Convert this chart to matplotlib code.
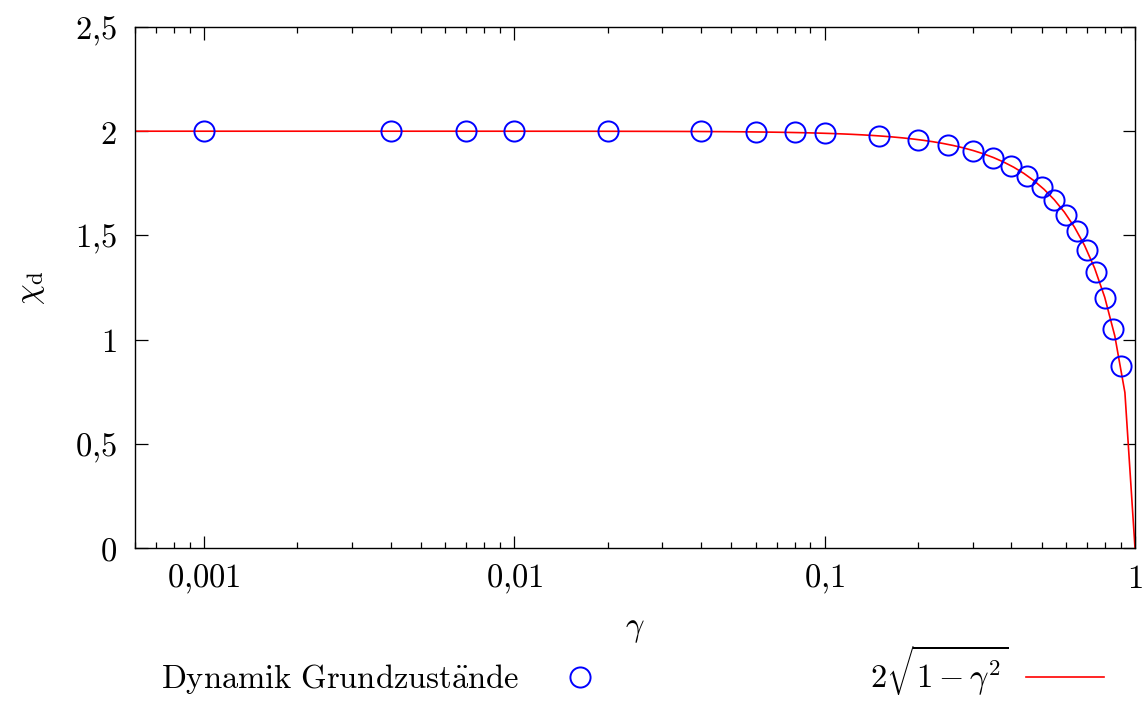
import numpy as np
import matplotlib
matplotlib.use("Agg")
import matplotlib.pyplot as plt
from matplotlib.lines import Line2D
from matplotlib.ticker import FixedLocator, LogLocator, NullFormatter

plt.rcParams['mathtext.fontset'] = 'cm'
plt.rcParams['font.family'] = 'serif'
plt.rcParams['font.serif'] = ['DejaVu Serif']

# Data: "Dynamik Grundzustände"
gamma = [0.001, 0.004, 0.007, 0.01, 0.02, 0.04, 0.06, 0.08, 0.1, 0.15, 0.2,
         0.25, 0.3, 0.35, 0.4, 0.45, 0.5, 0.55, 0.6, 0.65, 0.7, 0.75, 0.8,
         0.85, 0.9]
chi_d = [2.0, 2.0, 2.0, 2.0, 2.0, 1.999, 1.997, 1.994, 1.990, 1.976, 1.958,
         1.935, 1.904, 1.873, 1.832, 1.786, 1.732, 1.669, 1.597, 1.520, 1.428,
         1.322, 1.199, 1.053, 0.871]

x_min, x_max = 0.0006, 1.0
y_ticks = [0, 0.5, 1, 1.5, 2, 2.5]
x_ticks = [0.001, 0.01, 0.1, 1]
x_ticklabels = [r'$0{,}001$', r'$0{,}01$', r'$0{,}1$', r'$1$']
y_ticklabels = [r'$0$', r'$0{,}5$', r'$1$', r'$1{,}5$', r'$2$', r'$2{,}5$']

# analytic curve 2*sqrt(1-gamma^2), sampled 100 times in log space (gnuplot style)
g_curve = np.logspace(np.log10(x_min), 0, 100)
chi_curve = 2 * np.sqrt(np.clip(1 - g_curve**2, 0, None))

W, H = 1147, 701
fig = plt.figure(figsize=(W / 100, H / 100), dpi=100)
ax = fig.add_axes([135 / W, 1 - 548 / H, 1000 / W, (548 - 27) / H])

FS = 23.5
ax.plot(g_curve, chi_curve, color='#ff0000', lw=1.2, zorder=2)
ax.plot(gamma, chi_d, linestyle='none', marker='o', markersize=14.5,
        markerfacecolor='none', markeredgecolor='#0000ff', markeredgewidth=1.4,
        zorder=3)

ax.set_xscale('log')
ax.set_xlim(x_min, x_max)
ax.set_ylim(0, 2.5)

ax.xaxis.set_major_locator(FixedLocator(x_ticks))
ax.set_xticklabels(x_ticklabels)
ax.xaxis.set_minor_locator(LogLocator(base=10, subs=np.arange(2, 10)))
ax.xaxis.set_minor_formatter(NullFormatter())
ax.set_yticks(y_ticks)
ax.set_yticklabels(y_ticklabels)

ax.tick_params(which='both', direction='in', top=True, right=True,
               width=0.9, color='black')
ax.tick_params(which='major', length=9, labelsize=FS)
ax.tick_params(which='minor', length=4.5)
ax.tick_params(axis='x', which='major', pad=11)
ax.tick_params(axis='y', which='major', pad=13)
for s in ax.spines.values():
    s.set_linewidth(1.0)

ax.set_xlabel(r'$\gamma$', fontsize=FS, labelpad=12)
ax.set_ylabel(r'$\chi_{\mathrm{d}}$', fontsize=FS, labelpad=20)

# legend
h1 = Line2D([], [], linestyle='none', marker='o', markersize=14.5,
            markerfacecolor='none', markeredgecolor='#0000ff', markeredgewidth=1.4)
h2 = Line2D([], [], color='#ff0000', lw=1.2)
leg1 = fig.legend([h1], [r'$\mathrm{Dynamik\ Grundzust\ddot{a}nde}$'],
                  loc='center right', bbox_to_anchor=(619 / W, 1 - 679 / H),
                  frameon=False, markerfirst=False, fontsize=FS,
                  handlelength=2.4, handletextpad=0.65, borderpad=0, borderaxespad=0)
leg2 = fig.legend([h2], [r'$2\sqrt{1-\gamma^2}$'],
                  loc='center right', bbox_to_anchor=(1104 / W, 1 - 671 / H),
                  frameon=False, markerfirst=False, fontsize=FS,
                  handlelength=2.4, handletextpad=0.55, borderpad=0, borderaxespad=0)

fig.savefig('out.png', dpi=100)
